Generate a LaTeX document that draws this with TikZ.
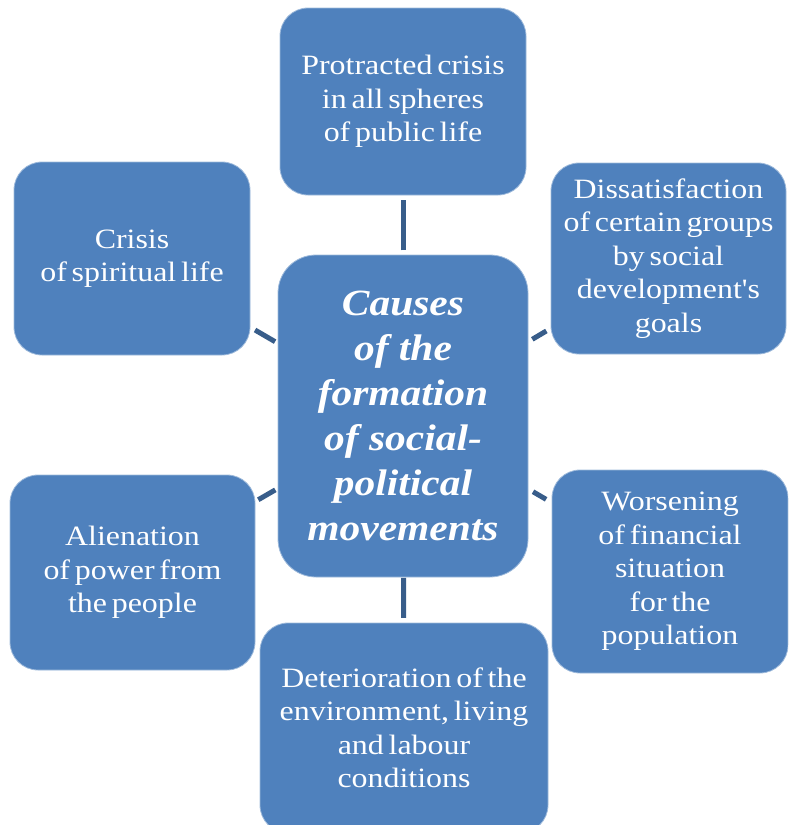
\documentclass[tikz,border=0pt]{standalone}
\usepackage{fontspec}
\setmainfont{Liberation Serif}
\newfontfamily\boxfont[FakeStretch=1.14,WordSpace=0.6]{Liberation Serif}
\newfontfamily\ctrfont[FakeStretch=1.12]{Liberation Serif}
\usetikzlibrary{calc}
\definecolor{boxblue}{HTML}{4F81BD}
\definecolor{linkblue}{HTML}{385D8A}
\begin{document}
\begin{tikzpicture}[x=1pt,y=-1pt,
  cause/.style={rounded corners=28pt, fill=boxblue, draw=boxblue!55!white, line width=0.8pt,
    text=white, align=center, inner sep=0pt,
    font=\boxfont\fontsize{28}{33.5}\selectfont},
  hub/.style={cause, rounded corners=38pt, font=\ctrfont\bfseries\itshape\fontsize{37}{45}\selectfont},
  link/.style={draw=linkblue, line width=5pt}]
\useasboundingbox (0,0) rectangle (788,825);
\clip (0,0) rectangle (788,825);
\node[cause, minimum width=246pt, minimum height=187pt] (top) at (403,101.5) {Protracted crisis\\in all spheres\\of public life};
\node[cause, minimum width=236pt, minimum height=193pt] (tl) at (132,258.5) {Crisis\\of spiritual life};
\node[cause, minimum width=235pt, minimum height=191pt] (tr) at (668.5,258.5) {Dissatisfaction\\of certain groups\\by social\\development's\\goals};
\node[hub, minimum width=250pt, minimum height=322pt] (ctr) at (403,416) {Causes\\of the\\formation\\of social-\\political\\movements};
\node[cause, minimum width=245pt, minimum height=195pt] (bl) at (132.5,572.5) {Alienation\\of power from\\the people};
\node[cause, minimum width=236pt, minimum height=203pt] (br) at (670,571.5) {Worsening\\of financial\\situation\\for the\\population};
\node[cause, minimum width=288pt, minimum height=210pt] (bot) at (404,728) {Deterioration of the\\environment, living\\and labour\\conditions};
\draw[link] ($(ctr)!0.527!(top)$) -- ($(ctr)!0.686!(top)$);
\draw[link] ($(ctr)!0.519!(bot)$) -- ($(ctr)!0.647!(bot)$);
\draw[link] ($(ctr)!0.472!(tl)$) -- ($(ctr)!0.546!(tl)$);
\draw[link] ($(ctr)!0.487!(tr)$) -- ($(ctr)!0.540!(tr)$);
\draw[link] ($(ctr)!0.472!(bl)$) -- ($(ctr)!0.535!(bl)$);
\draw[link] ($(ctr)!0.487!(br)$) -- ($(ctr)!0.536!(br)$);
\end{tikzpicture}
\end{document}
